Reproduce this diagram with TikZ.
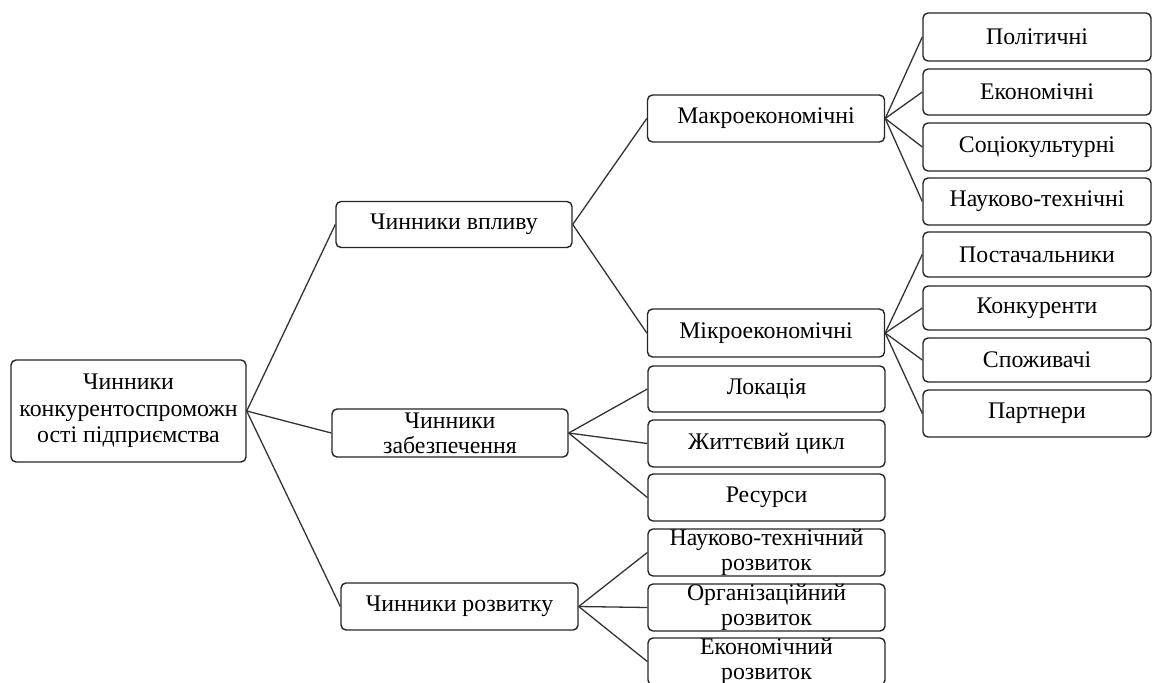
\documentclass[tikz,border=0pt]{standalone}
\usepackage{fontspec}
\setmainfont{Liberation Serif}
\begin{document}
\begin{tikzpicture}[x=1pt,y=-1pt,
  box/.style={draw=black!85, line width=1.4pt, rounded corners=5pt, fill=white, inner sep=0pt},
  lbl/.style={font=\fontsize{23.8}{25}\selectfont, align=center, inner sep=0pt, text=black},
  rootlbl/.style={lbl, font=\fontsize{23.8}{26.5}\selectfont},
  conn/.style={draw=black!80, line width=1.3pt}]
\useasboundingbox (0,0) rectangle (1155,682);
\fill[white] (0,0) rectangle (1155,682);
% helper: box centred at (cx,cy), width w, height h
\newcommand{\bx}[7][lbl]{\node[box, minimum width=#5pt, minimum height=#6pt] (#2) at (#3,#4) {};
  \node[#1] (#2t) at (#2.center) {#7};}
% root
\bx[rootlbl]{root}{128.5}{411}{235}{102}{Чинники\\конкурентоспроможн\\ості підприємства}
% level 1
\bx{vplyv}{454}{224.5}{236}{46}{Чинники впливу}
\bx{zabez}{450}{433}{236}{48}{Чинники\\забезпечення}
\bx{rozv}{459.5}{606.5}{237}{47}{Чинники розвитку}
% level 2
\bx{makro}{766}{118.5}{237}{47}{Макроекономічні}
\bx{mikro}{766}{333}{237}{48}{Мікроекономічні}
\bx{lok}{766.5}{389}{237}{46}{Локація}
\bx{zhyt}{766.5}{443.5}{237}{47}{Життєвий цикл}
\bx{res}{766.5}{497.5}{237}{47}{Ресурси}
\bx{nauk}{766.5}{552.5}{237}{47}{Науково-технічний\\розвиток}
\bx{org}{766.5}{607.5}{237}{47}{Організаційний\\розвиток}
\bx{ekon}{766.5}{661.5}{237}{47}{Економічний\\розвиток}
% level 3
\bx{pol}{1037}{37}{228}{48}{Політичні}
\bx{ek}{1037}{92}{228}{46}{Економічні}
\bx{soc}{1037}{147}{228}{48}{Соціокультурні}
\bx{nt}{1037}{201.5}{228}{47}{Науково-технічні}
\bx{post}{1037}{254.5}{228}{45}{Постачальники}
\bx{konk}{1037}{308}{228}{44}{Конкуренти}
\bx{spoz}{1037}{360}{228}{44}{Споживачі}
\bx{part}{1037}{413.5}{228}{47}{Партнери}
% connectors
\foreach \a/\b in {root/vplyv,root/zabez,root/rozv,
  vplyv/makro,vplyv/mikro,
  zabez/lok,zabez/zhyt,zabez/res,
  rozv/nauk,rozv/org,rozv/ekon,
  makro/pol,makro/ek,makro/soc,makro/nt,
  mikro/post,mikro/konk,mikro/spoz,mikro/part}
  \draw[conn] (\a.east) -- (\b.west);
\end{tikzpicture}
\end{document}
